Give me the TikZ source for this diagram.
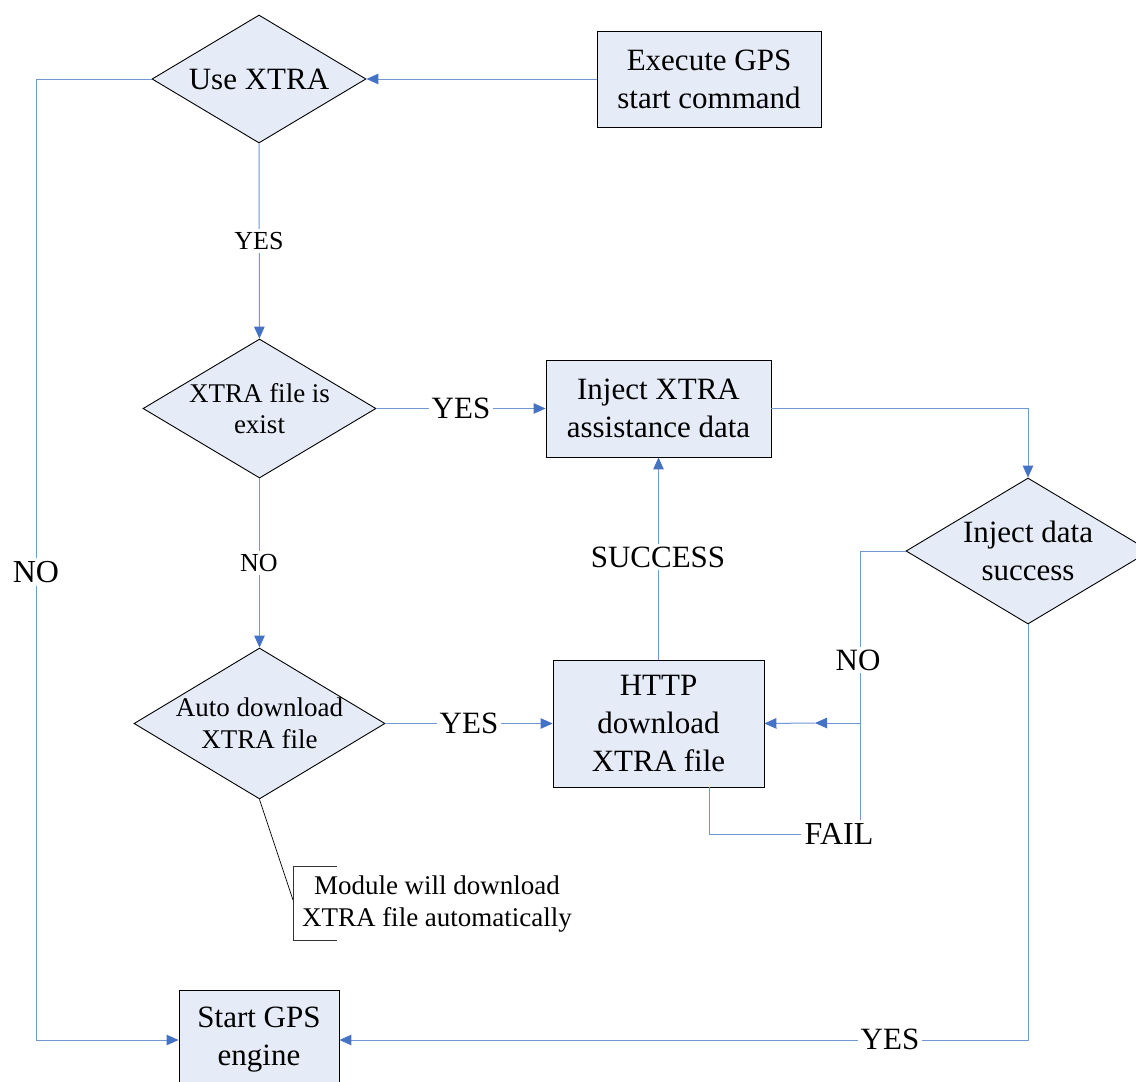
\documentclass[tikz,border=0pt]{standalone}
\usepackage{fontspec}
\setmainfont{Liberation Serif}
\usetikzlibrary{shapes.geometric,arrows.meta}
\definecolor{lineblue}{HTML}{6F98D4}
\definecolor{arrowblue}{HTML}{4472C4}
\definecolor{fillblue}{HTML}{E6ECF7}
\newcommand\bigfs{\fontsize{31}{38}\selectfont}
\newcommand\midfs{\fontsize{31}{38}\selectfont}
\newcommand\smfs{\fontsize{27}{31.5}\selectfont}
\newcommand\labfs{\fontsize{31}{34}\selectfont}
\newcommand\tinyfs{\fontsize{26}{28}\selectfont}
\newcommand\notefs{\fontsize{27}{32}\selectfont}
\tikzset{
  procbox/.style={draw=black, line width=0.9pt, fill=fillblue, inner sep=0pt, align=center, font=\bigfs},
  decide/.style={diamond, draw=black, line width=0.9pt, fill=fillblue, inner sep=0pt, aspect=1.67},
  dtext/.style={align=center, inner sep=0pt},
  flow/.style={draw=lineblue, line width=1pt, -{Triangle[length=12pt,width=10.5pt,color=arrowblue]}},
  plainline/.style={draw=lineblue, line width=1pt},
  lbl/.style={fill=white, inner sep=3pt, font=\labfs},
  smlbl/.style={fill=white, inner sep=3pt, font=\tinyfs},
}
\begin{document}
\begin{tikzpicture}[x=1pt,y=-1pt]
\useasboundingbox (0,0) rectangle (1136,1082);
\clip (0,0) rectangle (1136,1082);
\fill[white] (0,0) rectangle (1136,1082);

% nodes
\node[procbox, minimum width=224pt, minimum height=96pt] (exec) at (709,79) {Execute GPS\\start command};
\node[decide, minimum width=214pt, minimum height=128pt] (usex) at (259,79) {};
\node[dtext, font=\midfs] (usext) at (usex) {Use XTRA};
\node[decide, minimum width=233pt, minimum height=139pt] (exist) at (259.5,408.5) {};
\node[dtext, font=\smfs] (existt) at (exist) {XTRA file is\\exist};
\node[procbox, minimum width=225pt, minimum height=97pt] (inject) at (658.5,408.5) {Inject XTRA\\assistance data};
\node[decide, minimum width=244pt, minimum height=146pt] (injsucc) at (1028,551) {};
\node[dtext, font=\midfs] (injsucct) at (injsucc) {Inject data\\success};
\node[decide, minimum width=251pt, minimum height=151pt] (auto) at (259.5,723.5) {};
\node[dtext, font=\smfs] (autot) at (auto) {Auto download\\XTRA file};
\node[procbox, minimum width=211pt, minimum height=127pt] (http) at (658.5,723.5) {HTTP\\download\\XTRA file};
\node[procbox, minimum width=160pt, minimum height=100pt] (start) at (259,1040) {Start GPS\\engine};

% helper coordinates
\coordinate (c1) at (36,79);
\coordinate (j1) at (860,551);
\coordinate (j2) at (860,723);
\coordinate (mid) at (815,723);
\coordinate (f0) at (709,787);
\coordinate (ann) at (293,900);

% connectors
\draw[flow] (exec) -- (usex);
\draw[flow] (usex) -- (exist);
\draw[flow] (exist) -- (inject);
\draw[flow] (inject.east) -| (injsucc.north);
\draw[flow] (exist) -- (auto);
\draw[flow] (auto) -- (http);
\draw[flow] (http) -- (inject);
\draw[plainline] (injsucc.west) -- (j1) -- (j2);
\draw[flow] (j2) -- (mid);
\draw[flow] (mid) -- (http.east);
\draw[flow] (usex.west) -- (c1) |- (start.west);
\draw[flow] (injsucc.south) |- (start.east);

% labels
\node[smlbl] (l1) at (259,241) {YES};
\node[smlbl] (l2) at (259,563) {NO};
\node[lbl] (l3) at (461,408) {YES};
\node[lbl] (l4) at (469,723) {YES};
\node[lbl] (l5) at (658,557) {SUCCESS};
\node[lbl] (l6) at (858,660) {NO};
\node[lbl, font=\fontsize{32}{34}\selectfont] (l7) at (36,572) {NO};
\node[lbl] (l8) at (890,1039) {YES};
\node[lbl, font=\fontsize{32}{34}\selectfont] (fail) at (839,834) {FAIL};
\draw[plainline] (f0) |- (fail.west);
\draw[plainline] (fail.north -| j2) -- (j2);

% annotation
\draw[black, line width=0.7pt] (auto.south) -- (ann);
\draw[black!80, line width=0.9pt] (337,866) -- (293,866) -- (293,940) -- (337,940);
\node[font=\notefs, align=center, inner sep=0pt] (note) at (437,904) {Module will download\\XTRA file automatically};
\end{tikzpicture}
\end{document}
